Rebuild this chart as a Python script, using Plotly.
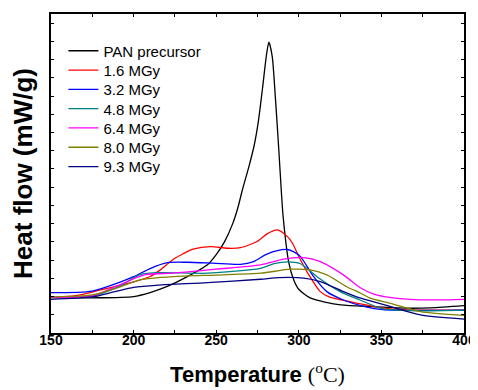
import plotly.graph_objects as go

# PAN precursor
t_pan = [150, 175, 200, 210, 220, 232.5, 244.7, 250, 255, 260, 262.9, 266, 270, 273, 275.5,
         278, 280.5, 281.9, 283.9, 285.9, 287.9, 289.4, 290.6, 294, 297, 300, 307.2,
         325.4, 345.4, 365.8, 380, 400]
y_pan = [1.94, 1.93, 2.0, 2.22, 2.54, 3.09, 3.74, 4.3, 5.0, 6.0, 6.8, 7.9, 9.2, 10.3, 11.6,
         13.4, 15.3, 15.95, 15.18, 12.8, 10.05, 7.8, 6.3, 3.83, 2.9, 2.4, 1.91,
         1.54, 1.45, 1.36, 1.38, 1.5]

# 1.6 MGy
t_16 = [150, 165, 180, 200, 210, 216, 220, 225, 230, 236, 246.5, 256.8, 264.7, 274.8, 281, 287,
        293, 296, 300, 306, 313, 318, 323, 335.5, 349.6, 365.8, 380, 400]
y_16 = [1.96, 2.05, 2.36, 2.8, 3.1, 3.45, 3.75, 4.1, 4.35, 4.6, 4.74, 4.65, 4.68, 5.02, 5.45, 5.66,
        5.3, 4.95, 4.2, 3.2, 2.27, 2.0, 1.87, 1.63, 1.38, 1.27, 1.26, 1.26]

# 3.2 MGy
t_32 = [150, 175, 190.6, 200, 210.3, 220.4, 232.5, 248, 264.7, 272.6, 280, 287, 293, 297,
        301, 309, 317, 327, 340, 351, 370, 400]
y_32 = [2.21, 2.3, 2.75, 3.09, 3.55, 3.86, 3.88, 3.83, 3.77, 3.92, 4.3, 4.52, 4.58, 4.45,
        4.19, 3.09, 2.27, 1.81, 1.45, 1.28, 1.24, 1.25]

# 4.8 MGy
t_48 = [150, 175, 190, 204, 216, 244.7, 276.8, 285, 293, 301, 311, 325, 337, 351, 370, 400]
y_48 = [1.96, 2.03, 2.5, 3.2, 3.31, 3.28, 3.55, 3.8, 3.9, 3.8, 3.09, 2.27, 1.81, 1.32, 1.22, 1.26]

# 6.4 MGy
t_64 = [150, 175, 190, 207, 224, 250, 276.8, 290.8, 303, 313, 327, 337, 345, 355, 370, 385, 400]
y_64 = [1.96, 2.03, 2.58, 3.2, 3.28, 3.5, 3.74, 4.05, 4.14, 3.92, 3.19, 2.5, 2.15, 1.95,
        1.83, 1.82, 1.85]

# 8.0 MGy
t_80 = [150, 175, 190, 204, 224, 250, 276.8, 295, 307, 317, 329, 337.5, 343.6, 355.5, 373.6, 400]
y_80 = [1.98, 2.09, 2.47, 2.91, 3.09, 3.18, 3.28, 3.5, 3.46, 3.19, 2.54, 2.18, 1.9, 1.63,
        1.17, 0.97]

# 9.3 MGy
t_93 = [150, 175, 188, 200, 215, 244.7, 276.8, 288, 303, 313, 327, 337.5, 355.5, 373.6, 400]
y_93 = [1.85, 1.98, 2.25, 2.5, 2.63, 2.76, 2.95, 3.04, 3.01, 2.82, 2.27, 1.91, 1.45, 0.99, 0.76]

names = ["PAN precursor", "1.6 MGy", "3.2 MGy", "4.8 MGy", "6.4 MGy", "8.0 MGy", "9.3 MGy"]
colors = ["#000000", "#FF0000", "#0000FF", "#008080", "#FF00FF", "#808000", "#000080"]
series = [(t_pan, y_pan), (t_16, y_16), (t_32, y_32), (t_48, y_48), (t_64, y_64),
          (t_80, y_80), (t_93, y_93)]

x_ticks = [150, 200, 250, 300, 350, 400]

# page body has an 8px margin; the figure is sized so the plot area lands where the reference has it
W, H = 470, 382
PLOT_H = 319.0
fig = go.Figure()
legend_layouts = {}
for i, ((t, y), n, c) in enumerate(zip(series, names, colors)):
    key = "legend" if i == 0 else f"legend{i + 1}"
    fig.add_trace(go.Scatter(x=t, y=y, mode="lines", name=n, legend=key,
                             line=dict(color=c, width=1.3, shape="spline", smoothing=0.7)))
    entry_py = 37.0 + 19.3 * i  # from plot top
    legend_layouts[key] = dict(
        x=0.03, y=1 - entry_py / PLOT_H, xanchor="left", yanchor="middle",
        font=dict(family="Arial, Liberation Sans", size=15, color="black"),
        bgcolor="rgba(0,0,0,0)", borderwidth=0)

fig.update_layout(
    width=W, height=H,
    margin=dict(l=43, r=14, t=6, b=57, autoexpand=False),
    paper_bgcolor="white", plot_bgcolor="white",
    showlegend=True,
    font=dict(family="Arial, Liberation Sans", color="black"),
    **legend_layouts,
)
fig.update_xaxes(
    range=[150, 400], tickvals=x_ticks, ticktext=[str(v) for v in x_ticks],
    automargin=False,
    showline=True, linecolor="black", linewidth=1.5, mirror="ticks",
    ticks="inside", ticklen=3, tickcolor="black", showgrid=False, zeroline=False,
    minor=dict(dtick=25, ticks="inside", ticklen=3, tickcolor="black"),
    tickfont=dict(family="Arial, Liberation Sans", size=14, color="black", weight="bold"),
    ticklabelstandoff=-7,
    title=dict(text="<b>Temperature </b><span style='font-family:Liberation Serif, Times New Roman'>(<sup>o</sup>C)</span>",
               font=dict(family="Arial, Liberation Sans", size=22, color="black"), standoff=20),
)
fig.update_yaxes(
    range=[0, 17.5], dtick=1, showticklabels=False, automargin=False,
    showline=True, linecolor="black", linewidth=1.5, mirror="ticks",
    ticks="inside", ticklen=3, tickcolor="black", showgrid=False, zeroline=False,
    title=dict(text="<b>Heat flow (mW/g)</b>",
               font=dict(family="Arial, Liberation Sans", size=26, color="black"), standoff=20),
)
fig.write_html("out.html")
